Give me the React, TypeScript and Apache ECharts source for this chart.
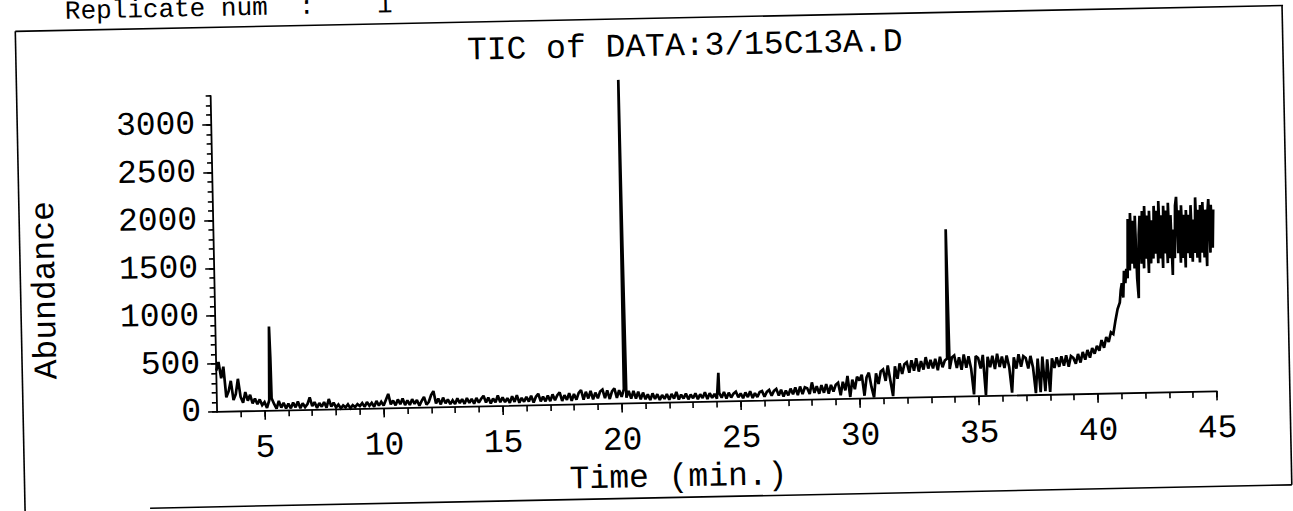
import React, { useEffect, useRef } from "react";
import * as echarts from "echarts";

// ---- data ----
// early part: sampled every 0.1 min from 3.0 to 40.9
const earlyStart = 3.0;
const earlyStep = 0.1;
const abundanceEarly: number[] = [
  430, 520, 350, 470, 150, 210, 320, 120, 180, 340, // 3
  150, 90, 200, 110, 170, 80, 130, 70, 120, 60, // 4
  90, 30, 110, 130, 70, 20, 100, 30, 80, 20, // 5
  70, 20, 80, 30, 90, 20, 70, 30, 60, 130, // 6
  40, 80, 20, 70, 30, 80, 20, 110, 30, 70, // 7
  20, 50, 10, 40, 20, 50, 10, 40, 20, 50, // 8
  30, 60, 20, 70, 30, 60, 20, 80, 30, 70, // 9
  30, 90, 150, 40, 80, 30, 90, 40, 100, 30, // 10
  80, 30, 90, 40, 80, 20, 70, 110, 30, 60, // 11
  130, 170, 40, 90, 30, 100, 40, 80, 30, 70, // 12
  30, 90, 40, 80, 30, 90, 40, 80, 30, 90, // 13
  40, 80, 110, 40, 90, 30, 80, 40, 110, 40, // 14
  90, 40, 80, 30, 100, 40, 110, 30, 80, 40, // 15
  90, 40, 100, 30, 90, 120, 40, 90, 40, 100, // 16
  40, 110, 50, 100, 130, 40, 100, 50, 120, 40, // 17
  110, 50, 120, 150, 50, 130, 60, 140, 50, 120, // 18
  60, 130, 150, 60, 140, 50, 130, 160, 60, 140, // 19
  70, 150, 60, 130, 50, 130, 50, 120, 40, 110, // 20
  40, 90, 30, 100, 40, 90, 30, 80, 40, 90, // 21
  30, 90, 40, 110, 30, 80, 40, 90, 30, 80, // 22
  40, 90, 30, 80, 40, 100, 30, 90, 40, 80, // 23
  30, 90, 40, 100, 30, 90, 40, 80, 100, 40, // 24
  80, 30, 90, 40, 100, 30, 80, 40, 90, 100, // 25
  40, 90, 110, 50, 100, 120, 50, 110, 40, 100, // 26
  50, 120, 60, 130, 50, 140, 60, 130, 120, 60, // 27
  180, 70, 140, 60, 150, 70, 160, 60, 150, 80, // 28
  150, 170, 40, 180, 90, 240, 20, 200, 100, 230, // 29
  190, 250, 30, 220, 270, 120, 10, 260, 150, 280, // 30
  300, 180, 340, 180, 20, 330, 200, 360, 250, 350, // 31
  370, 260, 390, 280, 410, 270, 380, 290, 420, 300, // 32
  390, 300, 400, 280, 420, 310, 380, 400, 290, 410, // 33
  430, 300, 410, 280, 440, 300, 420, 290, 20, 420, // 34
  400, 290, 430, 10, 410, 300, 420, 280, 440, 300, // 35
  410, 290, 420, 300, 30, 400, 280, 430, 300, 410, // 36
  390, 280, 410, 290, 20, 380, 30, 400, 40, 370, // 37
  30, 380, 280, 390, 290, 400, 300, 410, 290, 400, // 38
  380, 320, 420, 330, 440, 360, 460, 380, 480, 420, // 39
  500, 450, 560, 480, 590, 540, 640, 620, 760, 880, // 40
];

// late, very noisy part: sampled every 0.05 min from 41.0 to 45.0
const lateStart = 41.0;
const lateStep = 0.05;
const abundanceLate: number[] = [
  950, 1080, 1150, 1000, 1280, 1150, 1300, 1200, 1820, 1280, // 41.0
  1880, 1350, 1800, 1300, 1850, 1200, 990, 1650, 1850, 1350, // 41.5
  1900, 1300, 1950, 1400, 1850, 1250, 1900, 1350, 1800, 1400, // 42.0
  1950, 1450, 1900, 1350, 2000, 1400, 1850, 1300, 1950, 1450, // 42.5
  1900, 1350, 1980, 1400, 1850, 1225, 1700, 1400, 1950, 2040, // 43.0
  1450, 1900, 1350, 1950, 1400, 1850, 1300, 1900, 1450, 1850, // 43.5
  1400, 1950, 1360, 1800, 1450, 2030, 1400, 1900, 1350, 1950, // 44.0
  1450, 1980, 1400, 1900, 1310, 1850, 2010, 1450, 1950, 1500, // 44.5
  1900, // 45.0
];

// narrow peaks between samples
const peakTimes = [5.25, 5.28, 20.13, 20.16, 24.08, 33.75];
const peakValues = [880, 560, 3380, 1650, 300, 1750];

// axis ticks / labels
const xMajorTicks = [5, 10, 15, 20, 25, 30, 35, 40, 45];
const xMinorTicks = [
  4, 5, 6, 7, 8, 9, 10, 11, 12, 13, 14, 15, 16, 17, 18, 19, 20, 21, 22, 23, 24,
  25, 26, 27, 28, 29, 30, 31, 32, 33, 34, 35, 36, 37, 38, 39, 40, 41, 42, 43, 44, 45,
];
const yMajorTicks = [0, 500, 1000, 1500, 2000, 2500, 3000];
const yMinorTicks = [
  0, 100, 200, 300, 400, 500, 600, 700, 800, 900, 1000, 1100, 1200, 1300, 1400,
  1500, 1600, 1700, 1800, 1900, 2000, 2100, 2200, 2300, 2400, 2500, 2600, 2700,
  2800, 2900, 3000, 3100, 3200, 3300,
];

const titleText = "TIC of DATA:3/15C13A.D";
const headerText = "Replicate num  :    1";
const xName = "Time (min.)";
const yName = "Abundance";

// ---- layout ----
const W = 1293;
const H = 511;
const PAD = 30;
const ROT = -1.17; // scan is slightly tilted
const FONT = "Liberation Mono";
const FS = 33;
const INK = "#000";

export default function App() {
  const ref = useRef<HTMLDivElement>(null);

  useEffect(() => {
    if (!ref.current) return;
    const chart = echarts.init(ref.current, undefined, { renderer: "svg" });

    const r = (t: number) => Math.round(t * 1000) / 1000;
    const points: [number, number][] = [];
    abundanceEarly.forEach((v, i) => points.push([r(earlyStart + i * earlyStep), v]));
    abundanceLate.forEach((v, i) => points.push([r(lateStart + i * lateStep), v]));
    peakTimes.forEach((t, i) => points.push([t, peakValues[i]]));
    points.sort((a, b) => a[0] - b[0]);

    const axisLine = { show: true, onZero: false, lineStyle: { color: INK, width: 1.8 } };
    const tickStyle = { color: INK, width: 1.6 };
    const labelStyle = { fontFamily: FONT, fontSize: FS, color: INK };
    const plain = (v: number) => String(v);

    chart.setOption({
      animation: false,
      backgroundColor: "#fff",
      title: {
        text: titleText,
        left: 714,
        top: 56,
        textAlign: "center",
        textStyle: { fontFamily: FONT, fontSize: FS, fontWeight: "normal", color: INK },
      },
      grid: { left: 244, top: 117, width: 1000, height: 316, containLabel: false },
      xAxis: [
        {
          type: "value",
          min: 3,
          max: 45,
          position: "bottom",
          axisLine,
          axisTick: { show: true, customValues: xMinorTicks, length: 6, lineStyle: tickStyle },
          axisLabel: { show: false },
          splitLine: { show: false },
        },
        {
          type: "value",
          min: 3,
          max: 45,
          position: "bottom",
          axisLine: { show: false, onZero: false },
          axisTick: { show: true, customValues: xMajorTicks, length: 9, lineStyle: tickStyle },
          axisLabel: { customValues: xMajorTicks, margin: 21, formatter: plain, ...labelStyle },
          splitLine: { show: false },
          name: xName,
          nameLocation: "middle",
          nameGap: 52,
          nameTextStyle: { ...labelStyle, padding: [0, 80, 0, 0] },
        },
      ],
      yAxis: [
        {
          type: "value",
          min: 0,
          max: 3300,
          position: "left",
          axisLine,
          axisTick: { show: true, customValues: yMinorTicks, length: 5, lineStyle: tickStyle },
          axisLabel: { show: false },
          splitLine: { show: false },
        },
        {
          type: "value",
          min: 0,
          max: 3300,
          position: "left",
          axisLine: { show: false, onZero: false },
          axisTick: { show: true, customValues: yMajorTicks, length: 9, lineStyle: tickStyle },
          axisLabel: { customValues: yMajorTicks, margin: 16, formatter: plain, ...labelStyle },
          splitLine: { show: false },
          name: yName,
          nameLocation: "middle",
          nameGap: 152,
          nameTextStyle: { ...labelStyle, padding: [0, 66, 0, 0] },
        },
      ],
      series: [
        {
          type: "line",
          xAxisIndex: 0,
          yAxisIndex: 0,
          data: points,
          showSymbol: false,
          symbol: "none",
          clip: false,
          silent: true,
          lineStyle: { color: INK, width: 2.7, join: "miter", miterLimit: 2 },
        },
      ],
      graphic: [
        { type: "line", shape: { x1: 20 + PAD, y1: 18.5 + PAD, x2: 1288 + PAD, y2: 18.5 + PAD }, style: { stroke: INK, lineWidth: 1.6 } },
        { type: "line", shape: { x1: 20 + PAD, y1: 18.5 + PAD, x2: 20 + PAD, y2: 545 + PAD }, style: { stroke: INK, lineWidth: 1.6 } },
        { type: "line", shape: { x1: 1287 + PAD, y1: 18.5 + PAD, x2: 1287 + PAD, y2: 498 + PAD }, style: { stroke: INK, lineWidth: 1.6 } },
        { type: "line", shape: { x1: 145 + PAD, y1: 498 + PAD, x2: 1287 + PAD, y2: 498 + PAD }, style: { stroke: INK, lineWidth: 1.6 } },
        {
          type: "text",
          x: 70 + PAD,
          y: 13 + PAD,
          style: { text: headerText, fontFamily: FONT, fontSize: 26, fill: INK, verticalAlign: "bottom" },
        },
      ],
    });

    return () => chart.dispose();
  }, []);

  return (
    <div style={{ position: "fixed", left: 0, top: 0, width: W, height: H, overflow: "hidden", background: "#fff" }}>
      <div
        ref={ref}
        style={{
          position: "absolute",
          left: -PAD,
          top: -PAD,
          width: W + 2 * PAD,
          height: H + 2 * PAD,
          transform: `rotate(${ROT}deg)`,
        }}
      />
    </div>
  );
}
